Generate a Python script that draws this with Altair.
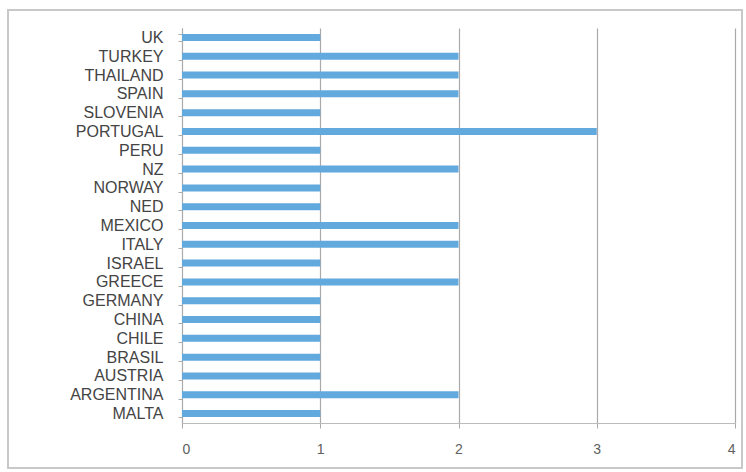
import altair as alt
import pandas as pd

countries = ["UK", "TURKEY", "THAILAND", "SPAIN", "SLOVENIA", "PORTUGAL", "PERU", "NZ",
             "NORWAY", "NED", "MEXICO", "ITALY", "ISRAEL", "GREECE", "GERMANY", "CHINA",
             "CHILE", "BRASIL", "AUSTRIA", "ARGENTINA", "MALTA"]
values = [1, 2, 2, 2, 1, 3, 1, 2, 1, 1, 2, 2, 1, 2, 1, 1, 1, 1, 1, 2, 1]
x_ticks = [0, 1, 2, 3, 4]

df = pd.DataFrame({"country": countries, "value": values})

frame = alt.Chart(pd.DataFrame({"k": [0]})).mark_rect(
    fillOpacity=0, stroke="#c8c8c8", strokeWidth=2
).encode(
    x=alt.value(-174), x2=alt.value(560), y=alt.value(-18), y2=alt.value(440)
)

bars = alt.Chart(df).mark_bar(color="#62a9de", size=7).encode(
    y=alt.Y("country:N", sort=countries, title=None,
            scale=alt.Scale(paddingInner=0.6, paddingOuter=0.3),
            axis=alt.Axis(labelFont="Liberation Sans", labelFontSize=16, labelColor="#444444",
                          labelPadding=15, tickBand="extent", tickSize=4, tickColor="#aaaaaa",
                          domainColor="#aaaaaa", grid=False)),
    x=alt.X("value:Q", title=None,
            scale=alt.Scale(domain=[0, 4], nice=False),
            axis=alt.Axis(values=x_ticks, format="d", labelFont="Liberation Sans",
                          labelFontSize=14, labelColor="#606060", labelPadding=14,
                          tickSize=5, tickColor="#aaaaaa", domainColor="#bbbbbb",
                          gridColor="#aaaaaa", gridWidth=1.2)),
)

chart = alt.layer(bars, frame).properties(
    width=553, height=395,
    padding={"left": 182, "top": 28, "right": 11, "bottom": 49},
    autosize=alt.AutoSizeParams(type="none"),
    background="white",
).configure_view(stroke=None)

chart.save("out.html", embed_options={"renderer": "svg", "actions": False})
